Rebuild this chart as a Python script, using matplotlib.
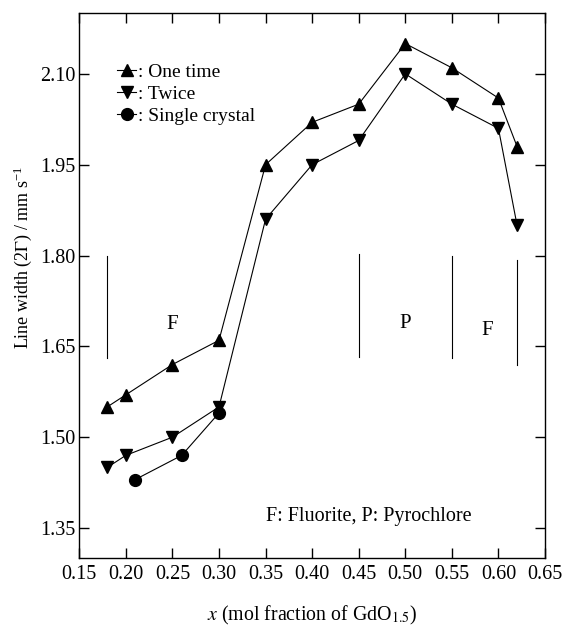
import matplotlib
matplotlib.use("Agg")
import matplotlib.pyplot as plt

plt.rcParams["font.family"] = ["Liberation Serif", "DejaVu Serif"]
plt.rcParams["mathtext.fontset"] = "stix"

# data
x_once = [0.18, 0.20, 0.25, 0.30, 0.35, 0.40, 0.45, 0.50, 0.55, 0.60, 0.62]
y_once = [1.55, 1.57, 1.62, 1.66, 1.95, 2.02, 2.05, 2.15, 2.11, 2.06, 1.98]

x_twice = [0.18, 0.20, 0.25, 0.30, 0.35, 0.40, 0.45, 0.50, 0.55, 0.60, 0.62]
y_twice = [1.45, 1.47, 1.50, 1.55, 1.86, 1.95, 1.99, 2.10, 2.05, 2.01, 1.85]

x_single = [0.21, 0.26, 0.30]
y_single = [1.43, 1.47, 1.54]

# phase boundary markers
bound_x = [0.18, 0.45, 0.55, 0.62]
bound_lo = [1.63, 1.633, 1.63, 1.62]
bound_hi = [1.80, 1.802, 1.80, 1.793]

phase_labels = ["F", "P", "F"]
phase_x = [0.25, 0.50, 0.588]
phase_y = [1.686, 1.688, 1.676]

x_ticks = [0.15, 0.20, 0.25, 0.30, 0.35, 0.40, 0.45, 0.50, 0.55, 0.60, 0.65]
y_ticks = [1.35, 1.50, 1.65, 1.80, 1.95, 2.10]

fig = plt.figure(figsize=(5.65, 6.26), dpi=100)
ax = fig.add_axes([79.3 / 565, 1 - 558.3 / 626, (545 - 79.3) / 565, (558.3 - 13.3) / 626])

kw = dict(color="black", linewidth=0.8, markersize=8.5)
ax.plot(x_once, y_once, marker="^", label=": One time", **kw)
ax.plot(x_twice, y_twice, marker="v", label=": Twice", **kw)
ax.plot(x_single, y_single, marker="o", label=": Single crystal", **kw)

for bx, lo, hi in zip(bound_x, bound_lo, bound_hi):
    ax.plot([bx, bx], [lo, hi], color="black", linewidth=0.8)

for lab, px, py in zip(phase_labels, phase_x, phase_y):
    ax.text(px, py, lab, fontsize=15, ha="center", va="center")

ax.text(0.4606, 1.369, "F: Fluorite, P: Pyrochlore", fontsize=14.5, ha="center", va="center")

ax.set_xlim(0.15, 0.65)
ax.set_ylim(1.30, 2.20)
ax.set_xticks(x_ticks)
ax.set_yticks(y_ticks)
ax.set_xticklabels([f"{v:.2f}" for v in x_ticks])
ax.set_yticklabels([f"{v:.2f}" for v in y_ticks])
ax.tick_params(direction="in", length=7, width=1, labelsize=14.5,
               top=True, right=True)
ax.tick_params(axis="x", pad=5)
ax.tick_params(axis="y", pad=3)
for s in ax.spines.values():
    s.set_linewidth(1)

ax.set_xlabel(r"$x$ (mol fraction of GdO$_{1.5}$)", fontsize=14.3, labelpad=14)
ax.set_ylabel(r"Line width (2$\Gamma$) / mm s$^{\mathregular{-1}}$", fontsize=13)
ax.yaxis.set_label_coords(-0.097, 0.552)

ax.legend(loc="upper left", bbox_to_anchor=(0.081, 0.908), frameon=False,
          fontsize=14, handlelength=1.0, handletextpad=0.1,
          labelspacing=0.23, borderaxespad=0, borderpad=0)

fig.savefig("out.png", dpi=100)
